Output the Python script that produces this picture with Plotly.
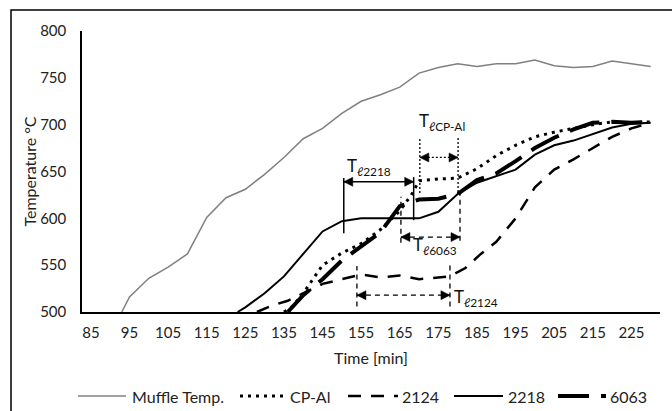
import plotly.graph_objects as go

# ---- data ----
muffle_t = [93, 95, 100, 105, 110, 115, 120, 125, 130, 135, 140, 145, 150, 155, 160, 165, 170, 175, 180, 185, 190, 195, 200, 205, 210, 215, 220, 225, 230]
muffle_T = [500, 516, 536, 548, 562, 601, 622, 631, 647, 665, 685, 696, 712, 725, 732, 740, 755, 761, 765, 762, 765, 765, 769, 763, 761, 762, 768, 765, 762]

cpal_t = [135, 137, 140, 145, 150, 155, 160, 165, 168, 170, 175, 180, 185, 190, 195, 200, 205, 210, 215, 220, 225, 230]
cpal_T = [500, 505, 520, 550, 563, 573, 588, 608, 625, 640, 642, 643, 653, 667, 678, 687, 692, 696, 700, 703, 702, 703]

a2124_t = [128, 132, 136, 140, 145, 150, 155, 160, 165, 170, 175, 178, 182, 186, 190, 195, 200, 205, 210, 215, 220, 225, 230]
a2124_T = [500, 507, 512, 520, 530, 535, 540, 537, 539, 535, 537, 538, 547, 562, 575, 600, 633, 652, 663, 675, 687, 696, 702]

a2218_t = [123, 125, 130, 135, 140, 145, 150, 155, 160, 165, 170, 175, 180, 185, 190, 195, 200, 205, 210, 215, 220, 225, 230]
a2218_T = [500, 505, 520, 538, 562, 586, 597, 600, 600, 600, 600, 607, 626, 638, 645, 652, 668, 678, 683, 690, 697, 701, 702]

a6063_t = [136, 140, 145, 150, 155, 160, 165, 170, 175, 180, 185, 190, 195, 200, 205, 210, 215, 220, 225, 230]
a6063_T = [500, 518, 535, 555, 570, 585, 613, 620, 621, 626, 641, 648, 661, 675, 686, 695, 702, 703, 702, 703]

x_ticks = [85, 95, 105, 115, 125, 135, 145, 155, 165, 175, 185, 195, 205, 215, 225]
y_ticks = [500, 550, 600, 650, 700, 750, 800]

# liquidus brackets
brackets = [
    dict(t0=150.5, t1=168.6, l=(584, 643), r=(598, 644), y=639, dash="solid",
         label="T<sub><i>ℓ</i>2218</sub>", lx=150.9, ly=640),
    dict(t0=170.2, t1=180.1, l=(627, 686), r=(628, 686), y=665, dash="dot",
         label="T<sub><i>ℓ</i>CP-Al</sub>", lx=169.5, ly=688),
    dict(t0=165.3, t1=180.6, l=(574, 623), r=(576, 627), y=580, dash="dash",
         label="T<sub><i>ℓ</i>6063</sub>", lx=167.9, ly=555),
    dict(t0=153.9, t1=178.0, l=(506, 549), r=(506, 551), y=518, dash="dash",
         label="T<sub><i>ℓ</i>2124</sub>", lx=178.4, ly=500.5),
]

X_RANGE = [82.7, 232.4]
Y_RANGE = [500, 800]
W, H = 672, 411
M_L, M_T = 82, 31
PLOT_W, PLOT_H = 578, 281
PX_X = PLOT_W / (X_RANGE[1] - X_RANGE[0])   # px per minute
PX_Y = PLOT_H / (Y_RANGE[1] - Y_RANGE[0])   # px per degree


def paper_x(px):
    return (px - M_L) / PLOT_W


def paper_y(py):
    return (M_T + PLOT_H - py) / PLOT_H


FONT = "Lato"
series = [
    ("Muffle Temp.", muffle_t, muffle_T, dict(color="#808080", width=1.5)),
    ("CP-Al", cpal_t, cpal_T, dict(color="black", width=3, dash="3px,5px")),
    ("2124", a2124_t, a2124_T, dict(color="black", width=2.5, dash="13px,10px")),
    ("2218", a2218_t, a2218_T, dict(color="black", width=2)),
    ("6063", a6063_t, a6063_T, dict(color="black", width=4, dash="31px,12px")),
]
# legend sample positions (px): line start, line end, text start
legend_pos = [(78, 126, 130), (240, 284, 288), (348, 398, 400), (454, 503, 506), (558, 606, 608)]
LEGEND_Y = 396

fig = go.Figure()
for name, xs, ys, ln in series:
    fig.add_trace(go.Scatter(x=xs, y=ys, mode="lines", name=name, line=ln, showlegend=False))

shapes = []
annotations = []
HEAD_L, HEAD_H = 9.0, 4.5  # arrowhead size in px
for b in brackets:
    dash = b["dash"]
    w = 1.5 if dash == "solid" else 1.3
    sdash = {"solid": "solid", "dot": "2px,2px", "dash": "5px,4px"}[dash]
    for tt, (lo, hi) in ((b["t0"], b["l"]), (b["t1"], b["r"])):
        shapes.append(dict(type="line", xref="x", yref="y", x0=tt, x1=tt, y0=lo, y1=hi,
                           line=dict(color="black", width=w, dash=sdash)))
    shapes.append(dict(type="line", xref="x", yref="y", x0=b["t0"], x1=b["t1"], y0=b["y"], y1=b["y"],
                       line=dict(color="black", width=w, dash=sdash)))
    for tip, sgn in ((b["t0"], 1), (b["t1"], -1)):
        base = tip + sgn * HEAD_L / PX_X
        hh = HEAD_H / PX_Y
        path = f"M{tip},{b['y']} L{base},{b['y'] + hh} L{base},{b['y'] - hh} Z"
        shapes.append(dict(type="path", xref="x", yref="y", path=path,
                           fillcolor="black", line=dict(color="black", width=0.5)))
    annotations.append(dict(x=b["lx"], y=b["ly"], xref="x", yref="y", text=b["label"],
                            showarrow=False, xanchor="left", yanchor="bottom",
                            font=dict(family=FONT, size=17, color="#111")))

# manual legend
for (name, xs, ys, ln), (x0, x1, xt) in zip(series, legend_pos):
    shapes.append(dict(type="line", xref="paper", yref="paper",
                       x0=paper_x(x0), x1=paper_x(x1), y0=paper_y(LEGEND_Y), y1=paper_y(LEGEND_Y),
                       line=dict(color=ln["color"], width=ln["width"], dash=ln.get("dash", "solid"))))
    annotations.append(dict(x=paper_x(xt), y=paper_y(LEGEND_Y), xref="paper", yref="paper",
                            text=name, showarrow=False, xanchor="left", yanchor="middle",
                            font=dict(family=FONT, size=16, color="#222")))

# outer border (left/top visible, rest beyond the canvas)
shapes.append(dict(type="rect", xref="paper", yref="paper",
                   x0=paper_x(11), x1=paper_x(690), y0=paper_y(430), y1=paper_y(10),
                   line=dict(color="black", width=1.5), fillcolor="rgba(0,0,0,0)", layer="below"))

fig.update_layout(
    width=W, height=H,
    margin=dict(l=M_L, r=W - M_L - PLOT_W, t=M_T, b=H - M_T - PLOT_H, autoexpand=False),
    paper_bgcolor="white", plot_bgcolor="white",
    font=dict(family=FONT, size=15, color="#222"),
    showlegend=False,
    shapes=shapes, annotations=annotations,
    xaxis=dict(range=X_RANGE, tickvals=x_ticks, showgrid=False, zeroline=False,
               showline=True, linecolor="black", linewidth=1.5, ticks="",
               ticklabelstandoff=6, automargin=False,
               tickfont=dict(family=FONT, size=15, color="#222"),
               title=dict(text="Time [min]", font=dict(family=FONT, size=16), standoff=13)),
    yaxis=dict(range=Y_RANGE, tickvals=y_ticks, showgrid=False, zeroline=False,
               showline=True, linecolor="black", linewidth=1.5, ticks="",
               ticklabelstandoff=11, automargin=False,
               tickfont=dict(family=FONT, size=15, color="#222"),
               title=dict(text="Temperature °C", font=dict(family=FONT, size=16), standoff=0)),
)

fig.write_html("out.html", config=dict(displayModeBar=False),
               post_script="document.body.style.margin='0';document.body.style.padding='0';")
